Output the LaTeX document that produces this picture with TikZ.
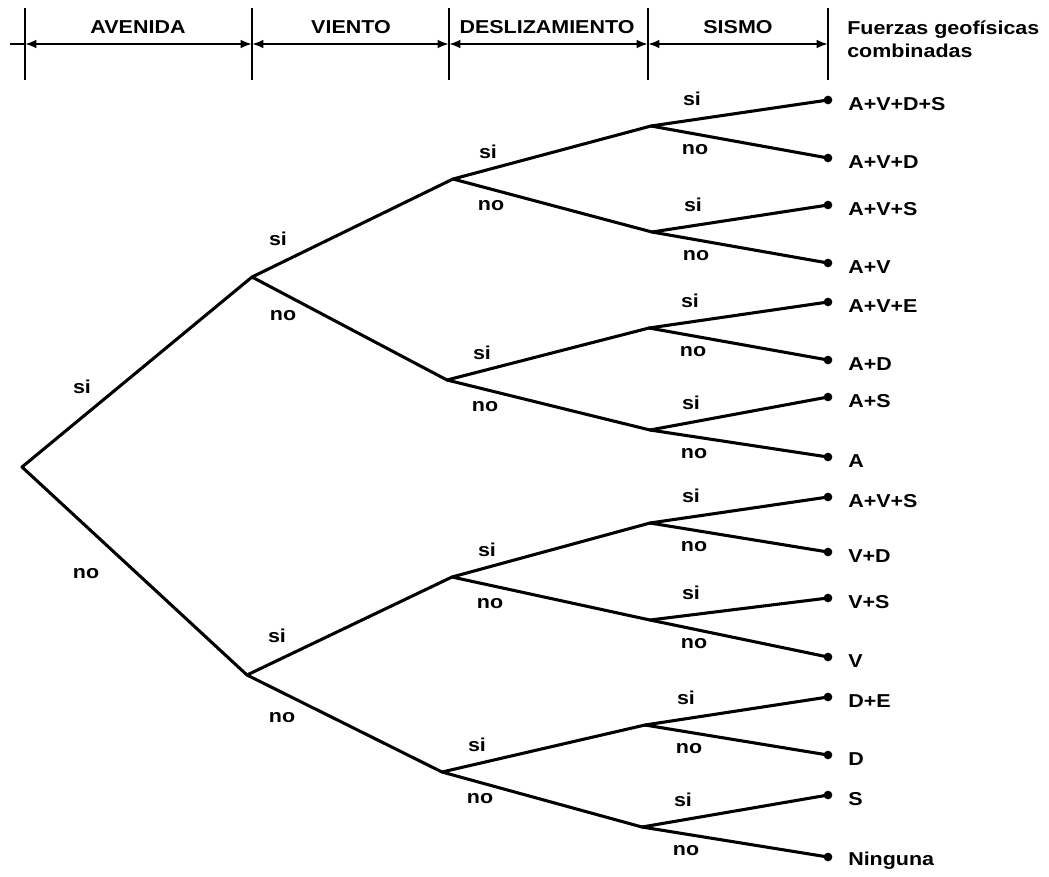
\documentclass[tikz,border=0pt]{standalone}
\usepackage{fontspec}
\setmainfont{Liberation Sans}[FakeStretch=1.15]
\usetikzlibrary{arrows.meta}
\begin{document}
\begin{tikzpicture}[x=0.75pt,y=-0.75pt,
  br/.style={line width=2.3pt, line cap=round, line join=round},
  tick/.style={line width=1.7pt},
  dim/.style={line width=1.5pt, {Latex[length=8.5pt,width=6.5pt]}-{Latex[length=8.5pt,width=6.5pt]}},
  txt/.style={font=\fontsize{14}{16}\selectfont\bfseries, inner sep=0pt},
  leaflbl/.style={txt, anchor=west},
  dot/.style={fill=black, circle, inner sep=0pt, minimum size=6.5pt}]
\useasboundingbox (0,0) rectangle (1049,876);
% header
\foreach \n/\x in {h0/25,h1/252,h2/449,h3/648,h4/828}{
  \coordinate (\n t) at (\x,8);
  \coordinate (\n b) at (\x,80);
  \coordinate (\n m) at (\x,44);
  \draw[tick] (\n t) -- (\n b);
}
\coordinate (hstart) at (10,44);
\draw[line width=1.5pt] (hstart) -- (h0m);
\draw[dim] (h0m) -- (h1m);
\draw[dim] (h1m) -- (h2m);
\draw[dim] (h2m) -- (h3m);
\draw[dim] (h3m) -- (h4m);
\node[txt] (tA) at (138,27) {AVENIDA};
\node[txt] (tV) at (351,27) {VIENTO};
\node[txt] (tD) at (547,27) {DESLIZAMIENTO};
\node[txt] (tS) at (738,27) {SISMO};
\node[txt, anchor=west] (tF1) at (847,30) {Fuerzas geofísicas};
\node[txt, anchor=west] (tF2) at (847,51) {combinadas};
% tree nodes
\coordinate (R) at (22,467);
\coordinate (U) at (252,277);
\coordinate (L) at (247,675);
\coordinate (UU) at (453,179);
\coordinate (UL) at (447,380);
\coordinate (LU) at (452,577);
\coordinate (LL) at (442,772);
\coordinate (n1) at (651,126);
\coordinate (n2) at (652,232);
\coordinate (n3) at (649,328);
\coordinate (n4) at (650,430);
\coordinate (n5) at (650,523);
\coordinate (n6) at (650,620);
\coordinate (n7) at (645,725);
\coordinate (n8) at (642,827);
\draw[br] (U) -- (R) -- (L);
\draw[br] (UU) -- (U) -- (UL);
\draw[br] (LU) -- (L) -- (LL);
\draw[br] (n1) -- (UU) -- (n2);
\draw[br] (n3) -- (UL) -- (n4);
\draw[br] (n5) -- (LU) -- (n6);
\draw[br] (n7) -- (LL) -- (n8);
% leaves
\foreach \i/\y/\t/\p in {1/100/A+V+D+S/n1, 2/158/A+V+D/n1, 3/205/A+V+S/n2, 4/263/A+V/n2,
  5/302/A+V+E/n3, 6/360/A+D/n3, 7/397/A+S/n4, 8/457/A/n4,
  9/497/A+V+S/n5, 10/552/V+D/n5, 11/598/V+S/n6, 12/657/V/n6,
  13/697/D+E/n7, 14/755/D/n7, 15/795/S/n8, 16/857/Ninguna/n8}{
  \node[dot] (f\i) at (828,\y) {};
  \draw[br] (\p) -- (f\i.center);
  \node[leaflbl] (g\i) at (848,\y+4) {\t};
}
% branch labels, level 3
\foreach \n in {n1,n2,n3,n4,n5,n6,n7,n8}{
  \node[txt] at ([shift={(41,-27)}]\n) {si};
  \node[txt] at ([shift={(44,24)}]\n) {no};
}
% level 2
\foreach \n in {UU,UL,LU,LL}{
  \node[txt] at ([shift={(35,-27)}]\n) {si};
  \node[txt] at ([shift={(38,27)}]\n) {no};
}
% level 1 and root
\node[txt] (sU) at (278,239) {si};
\node[txt] (nU) at (283,316) {no};
\node[txt] (sL) at (277,636) {si};
\node[txt] (nL) at (282,718) {no};
\node[txt] (sR) at (82,387) {si};
\node[txt] (nR) at (86,574) {no};
\end{tikzpicture}
\end{document}
